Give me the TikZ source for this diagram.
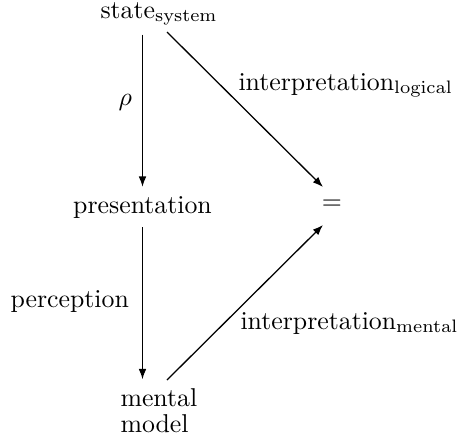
\documentclass[tikz,border=0pt]{standalone}
\usetikzlibrary{arrows.meta}
\begin{document}
\begin{tikzpicture}[x=0.3876pt,y=-0.3876pt,
  lbl/.style={inner sep=0pt,anchor=base west,font=\fontsize{10}{10.1}\selectfont},
  arr/.style={-{Latex[length=4pt,width=3pt]},line width=0.5pt},
  gap/.style={shorten <=3.4pt,shorten >=3.4pt}]
\useasboundingbox (0,0) rectangle (461,435);
\node[lbl] (state) at (100,18) {state$_{\mathrm{system}}$};
\node[lbl,anchor=base] (pres) at (142.5,213) {presentation};
\node[lbl,anchor=center] (eq) at (332,205) {$=$};
\node[lbl,anchor=north west,align=left] (mm) at (120,388) {mental\\model};
\node[lbl] (rho) at (118,105) {$\rho$};
\node[lbl] (perc) at (10,307) {perception};
\node[lbl] (il) at (238,90) {interpretation$_{\mathrm{logical}}$};
\node[lbl] (im) at (240,329) {interpretation$_{\mathrm{mental}}$};
\coordinate (d1s) at (167,32);
\coordinate (d1e) at (323,187);
\coordinate (d2s) at (167,380);
\coordinate (d2e) at (323,225);
\draw[arr,gap] (state.south -| pres.north) -- (pres.north);
\draw[arr,gap] (pres.south) -- (pres.south |- mm.north);
\draw[arr] (d1s) -- (d1e);
\draw[arr] (d2s) -- (d2e);
\end{tikzpicture}
\end{document}
